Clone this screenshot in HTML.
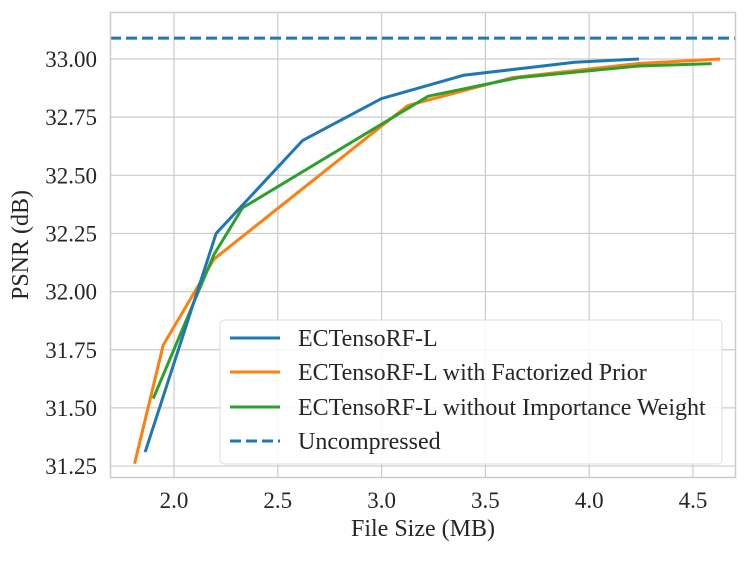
<!DOCTYPE html>
<html><head><meta charset="utf-8"><style>
body{margin:0;background:#fff}
svg text{font-family:"Liberation Serif",serif;fill:#262626}
</style></head><body>
<svg id="chart" width="748" height="556" xmlns="http://www.w3.org/2000/svg">
<rect x="0" y="0" width="748" height="556" fill="#fff"/>
<g id="grid"></g>
<g id="series"></g>
<rect x="110.5" y="12.5" width="625" height="465" fill="none" stroke="#ccc" stroke-width="1.5"/>
<g id="ticks"></g>
<text x="423" y="536" font-size="24" text-anchor="middle">File Size (MB)</text>
<text transform="translate(28,245) rotate(-90)" font-size="24" text-anchor="middle">PSNR (dB)</text>
<g id="legend">
<rect x="220" y="320" width="502" height="144" rx="4" fill="#fff" fill-opacity="0.85" stroke="#ddd"/>
<line x1="230" y1="338" x2="280" y2="338" stroke="#1f77b4" stroke-width="3"/>
<text x="298" y="346" font-size="24">ECTensoRF-L</text>
<line x1="230" y1="372" x2="280" y2="372" stroke="#ff7f0e" stroke-width="3"/>
<text x="298" y="380" font-size="24">ECTensoRF-L with Factorized Prior</text>
<line x1="230" y1="407" x2="280" y2="407" stroke="#2ca02c" stroke-width="3"/>
<text x="298" y="415" font-size="24">ECTensoRF-L without Importance Weight</text>
<line x1="230" y1="441" x2="280" y2="441" stroke="#1f77b4" stroke-width="3" stroke-dasharray="11,5"/>
<text x="298" y="449" font-size="24">Uncompressed</text>
</g>
</svg>
<script>
const xTicks=[2.0,2.5,3.0,3.5,4.0,4.5];
const xTickLabels=["2.0","2.5","3.0","3.5","4.0","4.5"];
const yTicks=[31.25,31.5,31.75,32.0,32.25,32.5,32.75,33.0];
const yTickLabels=["31.25","31.50","31.75","32.00","32.25","32.50","32.75","33.00"];
const blueX=[1.861,2.203,2.62,3.0,3.394,3.93,4.24];
const blueY=[31.31,32.25,32.65,32.83,32.93,32.986,33.0];
const orangeX=[1.81,1.948,2.193,2.997,3.126,3.63,4.23,4.63];
const orangeY=[31.26,31.77,32.14,32.71,32.80,32.92,32.98,33.0];
const greenX=[1.90,2.193,2.33,3.0,3.225,3.66,4.24,4.59];
const greenY=[31.54,32.16,32.36,32.72,32.84,32.92,32.97,32.98];
const uncompressed=33.09;
const NS="http://www.w3.org/2000/svg";
function sx(v){return 174+(v-2)*207.6;}
function sy(v){return 59+(33-v)*232.6;}
const grid=document.getElementById('grid'),ticks=document.getElementById('ticks'),series=document.getElementById('series');
xTicks.forEach((t,i)=>{
 const l=document.createElementNS(NS,'line');
 l.setAttribute('x1',sx(t));l.setAttribute('x2',sx(t));l.setAttribute('y1',12);l.setAttribute('y2',477);
 l.setAttribute('stroke','#ccc');l.setAttribute('stroke-width','1.2');
 
 
 grid.appendChild(l);
 const tx=document.createElementNS(NS,'text');
 tx.setAttribute('x',sx(t));tx.setAttribute('y',508);tx.setAttribute('font-size','23');tx.setAttribute('text-anchor','middle');
 tx.textContent=xTickLabels[i];
 
 
 ticks.appendChild(tx);
});
yTicks.forEach((t,i)=>{
 const l=document.createElementNS(NS,'line');
 l.setAttribute('x1',110);l.setAttribute('x2',735);l.setAttribute('y1',sy(t));l.setAttribute('y2',sy(t));
 l.setAttribute('stroke','#ccc');l.setAttribute('stroke-width','1.2');
 
 
 grid.appendChild(l);
 const tx=document.createElementNS(NS,'text');
 tx.setAttribute('x',97);tx.setAttribute('y',sy(t)+8);tx.setAttribute('font-size','23');tx.setAttribute('text-anchor','end');
 tx.textContent=yTickLabels[i];
 
 
 ticks.appendChild(tx);
});
function line(xs,ys,color,name){
 const p=document.createElementNS(NS,'polyline');
 p.setAttribute('points',xs.map((x,i)=>sx(x)+','+sy(ys[i])).join(' '));
 p.setAttribute('fill','none');p.setAttribute('stroke',color);p.setAttribute('stroke-width','3');p.setAttribute('stroke-linejoin','round');
 
 
 series.appendChild(p);
}
const u=document.createElementNS(NS,'line');
u.setAttribute('x1',110);u.setAttribute('x2',735);u.setAttribute('y1',sy(uncompressed));u.setAttribute('y2',sy(uncompressed));
u.setAttribute('stroke','#1f77b4');u.setAttribute('stroke-width','3');u.setAttribute('stroke-dasharray','11,5');


series.appendChild(u);
line(orangeX,orangeY,'#ff7f0e','factorized-prior-line');
line(greenX,greenY,'#2ca02c','no-importance-weight-line');
line(blueX,blueY,'#1f77b4','ectensorf-l-line');
</script>
</body></html>
